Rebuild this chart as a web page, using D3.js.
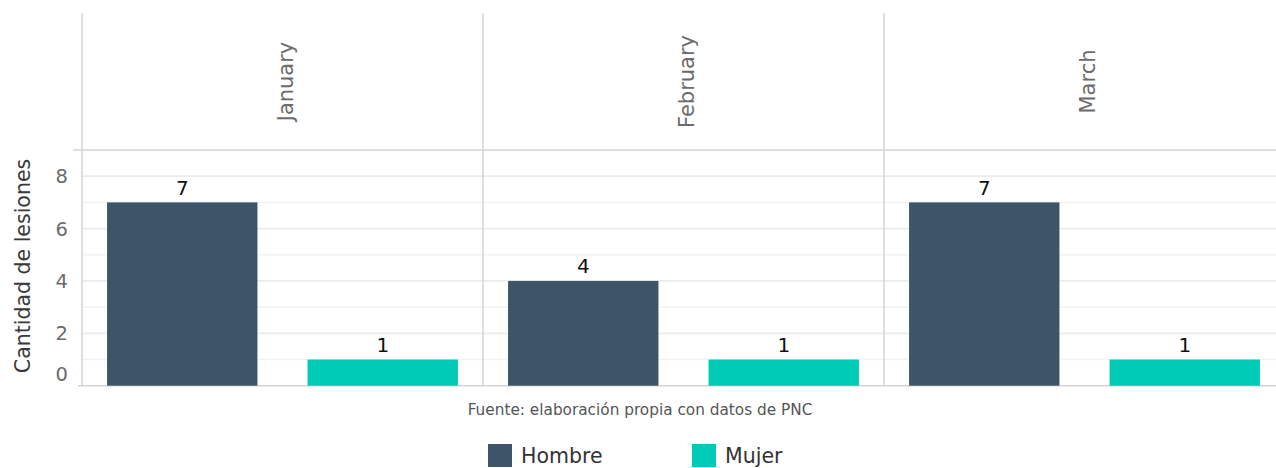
<!DOCTYPE html>
<html><head><meta charset="utf-8">
<script src="https://cdn.jsdelivr.net/npm/d3@7"></script>
<style>body{margin:0;background:#fff;} svg{display:block;font-family:"DejaVu Sans",sans-serif;}</style>
</head><body><svg id="c" width="1276" height="468"></svg>
<script>
const months = ["January","February","March"];
const sexes = ["Hombre","Mujer"];
const hombre = [7,4,7];
const mujer = [1,1,1];
const yTicks = [0,2,4,6,8];
const colors = ["#3e5569","#00cbb7"];
const caption = "Fuente: elaboración propia con datos de PNC";
const yTitle = "Cantidad de lesiones";

const svg = d3.select("#c");
const panelLeft = 82, stripTop = 13, plotTop = 150, plotBottom = 385.7;
const panelW = 401;
const fx = d3.scaleBand().domain(months).range([panelLeft, panelLeft + panelW*3]);
const x = d3.scaleBand().domain(sexes).range([0, panelW]).paddingInner(0.25).paddingOuter(0.125);
const y = d3.scaleLinear().domain([0,9]).range([plotBottom, plotTop]);
const color = d3.scaleOrdinal().domain(sexes).range(colors);

const g = svg.append("g");
d3.range(1,9,2).forEach(v=>{
  g.append("line").attr("x1",panelLeft).attr("x2",1276).attr("y1",y(v)).attr("y2",y(v))
   .attr("stroke","#f2f2f2").attr("stroke-width",1.5);
});
yTicks.filter(v=>v>0).forEach(v=>{
  g.append("line").attr("x1",panelLeft).attr("x2",1276).attr("y1",y(v)).attr("y2",y(v))
   .attr("stroke","#ebebeb").attr("stroke-width",1.8);
});

svg.append("line").attr("x1",73).attr("x2",1276).attr("y1",plotTop).attr("y2",plotTop)
  .attr("stroke","#d4d4d4").attr("stroke-width",1.5);
svg.append("line").attr("x1",78).attr("x2",1276).attr("y1",plotBottom).attr("y2",plotBottom)
  .attr("stroke","#d4d4d4").attr("stroke-width",1.5);

const data = [];
months.forEach((m,i)=>{ data.push({m, s:"Hombre", v:hombre[i]}); data.push({m, s:"Mujer", v:mujer[i]}); });

months.forEach(m=>{
  const px = fx(m);
  svg.append("line").attr("x1",px).attr("x2",px).attr("y1",stripTop).attr("y2",plotBottom)
    .attr("stroke","#d4d4d4").attr("stroke-width",1.5);
  svg.append("text").attr("transform",`translate(${px+panelW/2+10.5},${(stripTop+plotTop)/2}) rotate(-90)`)
    .attr("text-anchor","middle").attr("fill","#6b6b6b").attr("font-size",21).text(m);
});

svg.append("g").selectAll("rect").data(data).join("rect")
  .attr("x",d=>fx(d.m)+x(d.s)).attr("width",x.bandwidth())
  .attr("y",d=>y(d.v)).attr("height",d=>y(0)-y(d.v))
  .attr("fill",d=>color(d.s));

svg.append("g").selectAll("text").data(data).join("text")
  .attr("x",d=>fx(d.m)+x(d.s)+x.bandwidth()/2).attr("y",d=>y(d.v)-7.5)
  .attr("text-anchor","middle").attr("font-size",20).attr("fill","#111").text(d=>d.v);

svg.append("g").selectAll("text").data(yTicks).join("text")
  .attr("x",68).attr("y",d=>y(d)).attr("dy",d=>d===0?"-0.25em":"0.36em")
  .attr("text-anchor","end").attr("font-size",19.5).attr("fill","#6b6b6b").text(d=>d);

svg.append("text").attr("transform",`translate(29.5,266) rotate(-90)`)
  .attr("text-anchor","middle").attr("font-size",20.5).attr("fill","#3a3a3a").text(yTitle);

svg.append("text").attr("x",640).attr("y",415).attr("text-anchor","middle")
  .attr("font-size",15.3).attr("fill","#555").text(caption);

const legX = [488, 692];
sexes.forEach((s,i)=>{
  svg.append("rect").attr("x",legX[i]).attr("y",444).attr("width",24).attr("height",23).attr("fill",color(s));
  svg.append("text").attr("x",legX[i]+33).attr("y",463).attr("font-size",20.5).attr("fill","#333").text(s);
});
</script></body></html>
